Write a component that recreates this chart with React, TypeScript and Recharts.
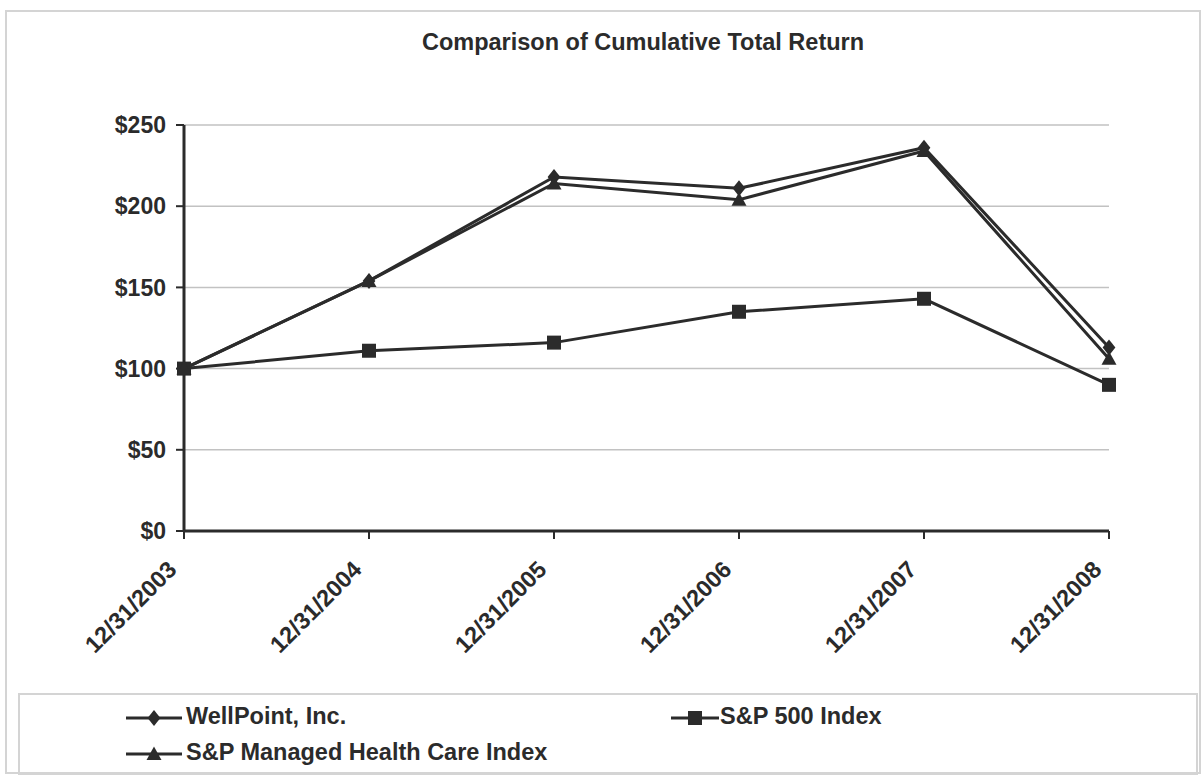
import React from 'react'
import { LineChart, Line, XAxis, YAxis, CartesianGrid } from 'recharts'

const years = ['12/31/2003', '12/31/2004', '12/31/2005', '12/31/2006', '12/31/2007', '12/31/2008']
const wellpoint = [100, 154, 218, 211, 236, 113]
const sp500 = [100, 111, 116, 135, 143, 90]
const managedCare = [100, 154, 214, 204, 234, 106]
const yTicks = [0, 50, 100, 150, 200, 250]

const data = years.map((date, i) => ({
  date,
  wellpoint: wellpoint[i],
  sp500: sp500[i],
  managedCare: managedCare[i],
}))

const ink = '#2b2b2b'
const font = '"Liberation Sans", Arial, sans-serif'

const Diamond = (props: any) => {
  const { cx, cy } = props
  if (cx == null || cy == null) return null
  const r = 8
  return <path d={`M${cx},${cy - r}L${cx + r * 0.8},${cy}L${cx},${cy + r}L${cx - r * 0.8},${cy}Z`} fill={ink} />
}

const Square = (props: any) => {
  const { cx, cy } = props
  if (cx == null || cy == null) return null
  const s = 7
  return <rect x={cx - s} y={cy - s} width={s * 2} height={s * 2} fill={ink} />
}

const Triangle = (props: any) => {
  const { cx, cy } = props
  if (cx == null || cy == null) return null
  const s = 7.5
  return <path d={`M${cx},${cy - s}L${cx + s},${cy + s * 0.8}L${cx - s},${cy + s * 0.8}Z`} fill={ink} />
}

// rotated date labels, ending a little below-left of each tick
const XTick = (props: any) => {
  const { x, y, payload } = props
  return (
    <g transform={`translate(${x - 6},${y + 30})`}>
      <text textAnchor="end" transform="rotate(-45)" fontSize={23.5} fontWeight="bold" fill={ink} fontFamily={font}>
        {payload.value}
      </text>
    </g>
  )
}

const LegendIcon = ({ kind, w }: { kind: string; w: number }) => (
  <svg width={w} height={20} style={{ verticalAlign: 'middle' }}>
    <line x1={0} y1={10} x2={w} y2={10} stroke={ink} strokeWidth={3} />
    {kind === 'diamond' && <Diamond cx={w / 2} cy={10} />}
    {kind === 'square' && <Square cx={w / 2} cy={10} />}
    {kind === 'triangle' && <Triangle cx={w / 2} cy={10} />}
  </svg>
)

export default function App() {
  return (
    <div style={{ position: 'absolute', left: 0, top: 0, width: 1204, height: 778, background: '#fff', fontFamily: font }}>
      <div style={{ position: 'absolute', left: 5, top: 10, width: 1196, height: 764, border: '2px solid #d4d4d4', boxSizing: 'border-box' }} />
      <div style={{ position: 'absolute', left: 0, width: 1286, top: 29, textAlign: 'center', fontSize: 23.5, fontWeight: 'bold', color: ink }}>
        Comparison of Cumulative Total Return
      </div>
      <LineChart width={1204} height={778} data={data} margin={{ top: 125, right: 95, left: 0, bottom: 97 }}>
        <CartesianGrid vertical={false} stroke="#c2c2c2" strokeWidth={1.5} />
        <XAxis
          dataKey="date"
          tick={<XTick />}
          tickSize={8}
          axisLine={{ stroke: ink, strokeWidth: 3 }}
          tickLine={{ stroke: ink, strokeWidth: 2 }}
          height={150}
          interval={0}
        />
        <YAxis
          domain={[0, 250]}
          ticks={yTicks}
          tickFormatter={(v: number) => `$${v}`}
          width={184}
          tickSize={8}
          tickMargin={10}
          axisLine={{ stroke: ink, strokeWidth: 3 }}
          tickLine={{ stroke: ink, strokeWidth: 2 }}
          tick={{ fontSize: 23, fontWeight: 'bold', fill: ink, fontFamily: font }}
        />
        <Line dataKey="wellpoint" name="WellPoint, Inc." stroke={ink} strokeWidth={3} dot={<Diamond />} isAnimationActive={false} />
        <Line dataKey="sp500" name="S&P 500 Index" stroke={ink} strokeWidth={3} dot={<Square />} isAnimationActive={false} />
        <Line dataKey="managedCare" name="S&P Managed Health Care Index" stroke={ink} strokeWidth={3} dot={<Triangle />} isAnimationActive={false} />
      </LineChart>
      <div style={{ position: 'absolute', left: 18, top: 693, width: 1180, height: 82, border: '2px solid #d4d4d4', boxSizing: 'border-box', fontSize: 23.5, fontWeight: 'bold', color: ink }}>
        <div style={{ position: 'absolute', left: 106, top: 8, whiteSpace: 'nowrap' }}>
          <LegendIcon kind="diamond" w={56} />
          <span style={{ marginLeft: 4 }}>WellPoint, Inc.</span>
        </div>
        <div style={{ position: 'absolute', left: 651, top: 8, whiteSpace: 'nowrap' }}>
          <LegendIcon kind="square" w={48} />
          <span style={{ marginLeft: 1 }}>S&amp;P 500 Index</span>
        </div>
        <div style={{ position: 'absolute', left: 106, top: 44, whiteSpace: 'nowrap' }}>
          <LegendIcon kind="triangle" w={56} />
          <span style={{ marginLeft: 4 }}>S&amp;P Managed Health Care Index</span>
        </div>
      </div>
    </div>
  )
}
